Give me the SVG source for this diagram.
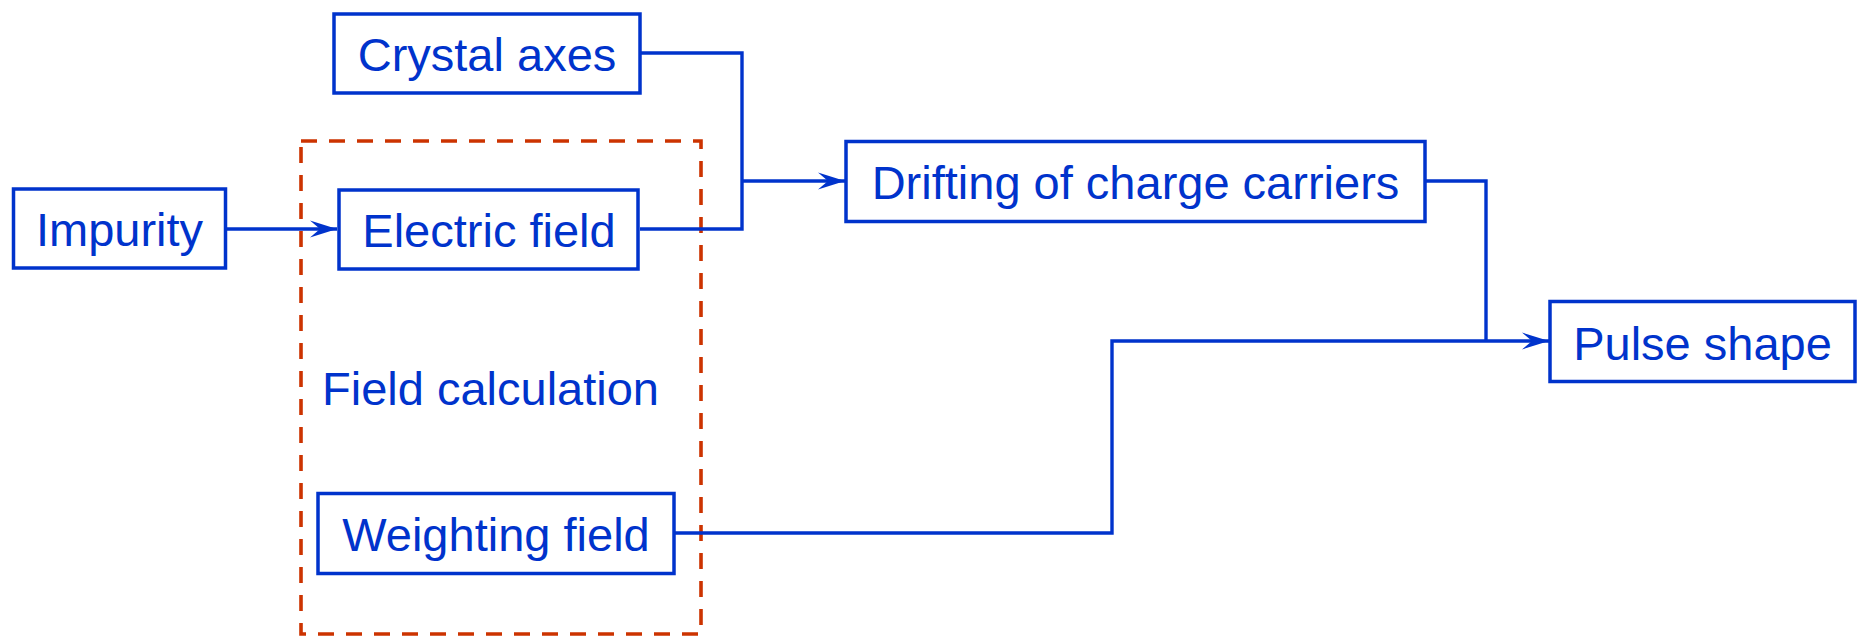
<svg xmlns="http://www.w3.org/2000/svg" width="1862" height="637" viewBox="0 0 1862 637">
  <style>
    .box { fill: #ffffff; stroke: #0033cc; stroke-width: 3.5; }
    .lbl { font-family: "Liberation Sans", Arial, sans-serif; font-size: 47px; fill: #0033cc; text-anchor: middle; }
    .wire { fill: none; stroke: #0033cc; stroke-width: 3.4; }
    .group { fill: none; stroke: #cc3300; stroke-width: 3.6; stroke-dasharray: 16 12; }
  </style>
  <defs>
    <marker id="arrow" markerUnits="userSpaceOnUse" markerWidth="30" markerHeight="20" refX="27" refY="8" orient="auto" overflow="visible">
      <path d="M27,8 L0,-0.5 L10,8 L0,16.5 Z" fill="#0033cc"/>
    </marker>
  </defs>

  <rect id="background" x="0" y="0" width="1862" height="637" fill="#ffffff"/>

  <!-- field calculation group -->
  <g id="field-calculation">
    <rect class="group" x="301" y="141" width="400" height="493"/>
    <text x="322" y="405" font-family="Liberation Sans, Arial, sans-serif" font-size="47" fill="#0033cc">Field calculation</text>
  </g>

  <!-- connectors -->
  <g id="connectors">
    <path class="wire" d="M226,229 H337" marker-end="url(#arrow)"/>
    <path class="wire" d="M640,53 H742 V229 H640"/>
    <path class="wire" d="M742,181 H845" marker-end="url(#arrow)"/>
    <path class="wire" d="M1426,181 H1486 V341"/>
    <path class="wire" d="M675,533 H1112 V341 H1549" marker-end="url(#arrow)"/>
  </g>

  <g id="crystal-axes">
    <rect class="box" x="334" y="14" width="306" height="79"/>
    <text class="lbl" x="487" y="71">Crystal axes</text>
  </g>

  <g id="impurity">
    <rect class="box" x="13.5" y="189" width="212" height="79"/>
    <text class="lbl" x="119.5" y="246">Impurity</text>
  </g>

  <g id="electric-field">
    <rect class="box" x="339" y="190" width="299" height="79"/>
    <text class="lbl" x="489" y="246.5">Electric field</text>
  </g>

  <g id="drifting">
    <rect class="box" x="846" y="141.5" width="579" height="80"/>
    <text class="lbl" x="1135.5" y="198.5">Drifting of charge carriers</text>
  </g>

  <g id="pulse-shape">
    <rect class="box" x="1550" y="301.5" width="305" height="80"/>
    <text class="lbl" x="1702.5" y="359.5">Pulse shape</text>
  </g>

  <g id="weighting-field">
    <rect class="box" x="318" y="493.5" width="356" height="80"/>
    <text class="lbl" x="496" y="550.5">Weighting field</text>
  </g>
</svg>
